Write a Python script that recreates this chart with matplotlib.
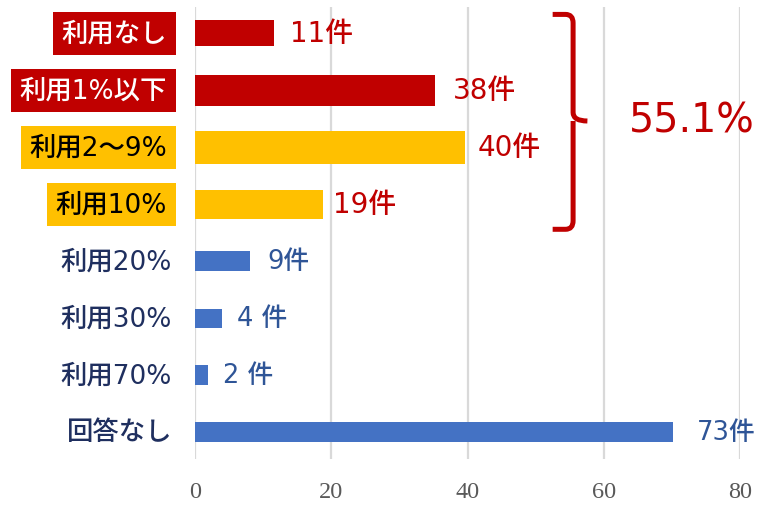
import matplotlib.pyplot as plt
from matplotlib.path import Path
from matplotlib.patches import PathPatch

plt.rcParams['font.family'] = ['DejaVu Sans', 'Noto Sans CJK JP']

categories = ["利用なし", "利用1%以下", "利用2～9%", "利用10%", "利用20%", "利用30%", "利用70%", "回答なし"]
bar_values = [11.6, 35.3, 39.7, 18.8, 8.0, 3.9, 1.9, 70.2]
value_labels = ["11件", "38件", "40件", "19件", "9件", "4 件", "2 件", "73件"]
total_label = "55.1%"
ticks = [0, 20, 40, 60, 80]

red = "#C00000"
yellow = "#FFC000"
blue = "#4472C4"
bar_colors = [red, red, yellow, yellow, blue, blue, blue, blue]
bar_heights = [0.46, 0.54, 0.58, 0.51, 0.35, 0.33, 0.35, 0.35]
label_colors = [red, red, red, red, "#2F5597", "#2F5597", "#2F5597", "#2F5597"]
label_sizes = [20, 20, 20, 20, 18.5, 18.5, 18.5, 18.5]
label_pad = [2.3, 2.6, 1.8, 1.5, 2.6, 2.2, 2.2, 3.4]
box_colors = [red, red, yellow, yellow, None, None, None, None]
cat_text_colors = ["white", "white", "black", "black", "#1F2F5F", "#1F2F5F", "#1F2F5F", "#1F2F5F"]

fig = plt.figure(figsize=(7.71, 5.06), dpi=100)
ax = fig.add_axes([195 / 771, (506 - 460) / 506, (740 - 195) / 771, (460 - 8) / 506])

y = list(range(len(categories)))
ax.barh(y, bar_values, height=bar_heights, color=bar_colors, zorder=3)

ax.set_xlim(0, 80)
ax.set_ylim(7.47, -0.46)
ax.set_xticks(ticks)
ax.set_xticklabels([str(t) for t in ticks], family="Liberation Serif", fontsize=17.5, color="#595959")
ax.set_yticks([])
ax.tick_params(axis="x", length=0, pad=16)
ax.grid(axis="x", color="#D9D9D9", linewidth=1.6, zorder=0)
for s in ax.spines.values():
    s.set_visible(False)

# value labels
for i, (v, lab) in enumerate(zip(bar_values, value_labels)):
    ax.text(v + label_pad[i], i, lab, va="center", ha="left", fontsize=label_sizes[i],
            color=label_colors[i], fontweight="medium")

# category labels
for i, cat in enumerate(categories):
    kw = {}
    off = -16.5
    if box_colors[i]:
        kw["bbox"] = dict(boxstyle="square,pad=0.33", fc=box_colors[i], ec="none")
        off = -20
    ax.annotate(cat, xy=(0, i), xycoords=("axes fraction", "data"),
                xytext=(off, 0), textcoords="offset points",
                ha="right", va="center", fontsize=19, color=cat_text_colors[i],
                fontweight="medium", annotation_clip=False, **kw)

# bracket
x0, x1, x2 = 52.5, 55.5, 57.6
yt, ym, yb = -0.33, 1.54, 3.44
r_x, r_y = 1.1, 0.15
verts = [(x0, yt), (x1 - r_x, yt), (x1, yt), (x1, yt + r_y),
         (x1, ym - r_y), (x1, ym), (x2, ym),
         (x1, ym), (x1, ym + r_y),
         (x1, yb - r_y), (x1, yb), (x1 - r_x, yb), (x0, yb)]
codes = [Path.MOVETO, Path.LINETO, Path.CURVE3, Path.CURVE3,
         Path.LINETO, Path.CURVE3, Path.CURVE3,
         Path.MOVETO, Path.CURVE3,
         Path.LINETO, Path.CURVE3, Path.CURVE3, Path.LINETO]
ax.add_patch(PathPatch(Path(verts, codes), fill=False, ec=red, lw=3.6,
                       capstyle="butt", joinstyle="round", clip_on=False, zorder=4))

ax.text(63.7, ym, total_label, ha="left", va="center", fontsize=28.5, color=red, clip_on=False)

fig.savefig("out.png", dpi=100)
